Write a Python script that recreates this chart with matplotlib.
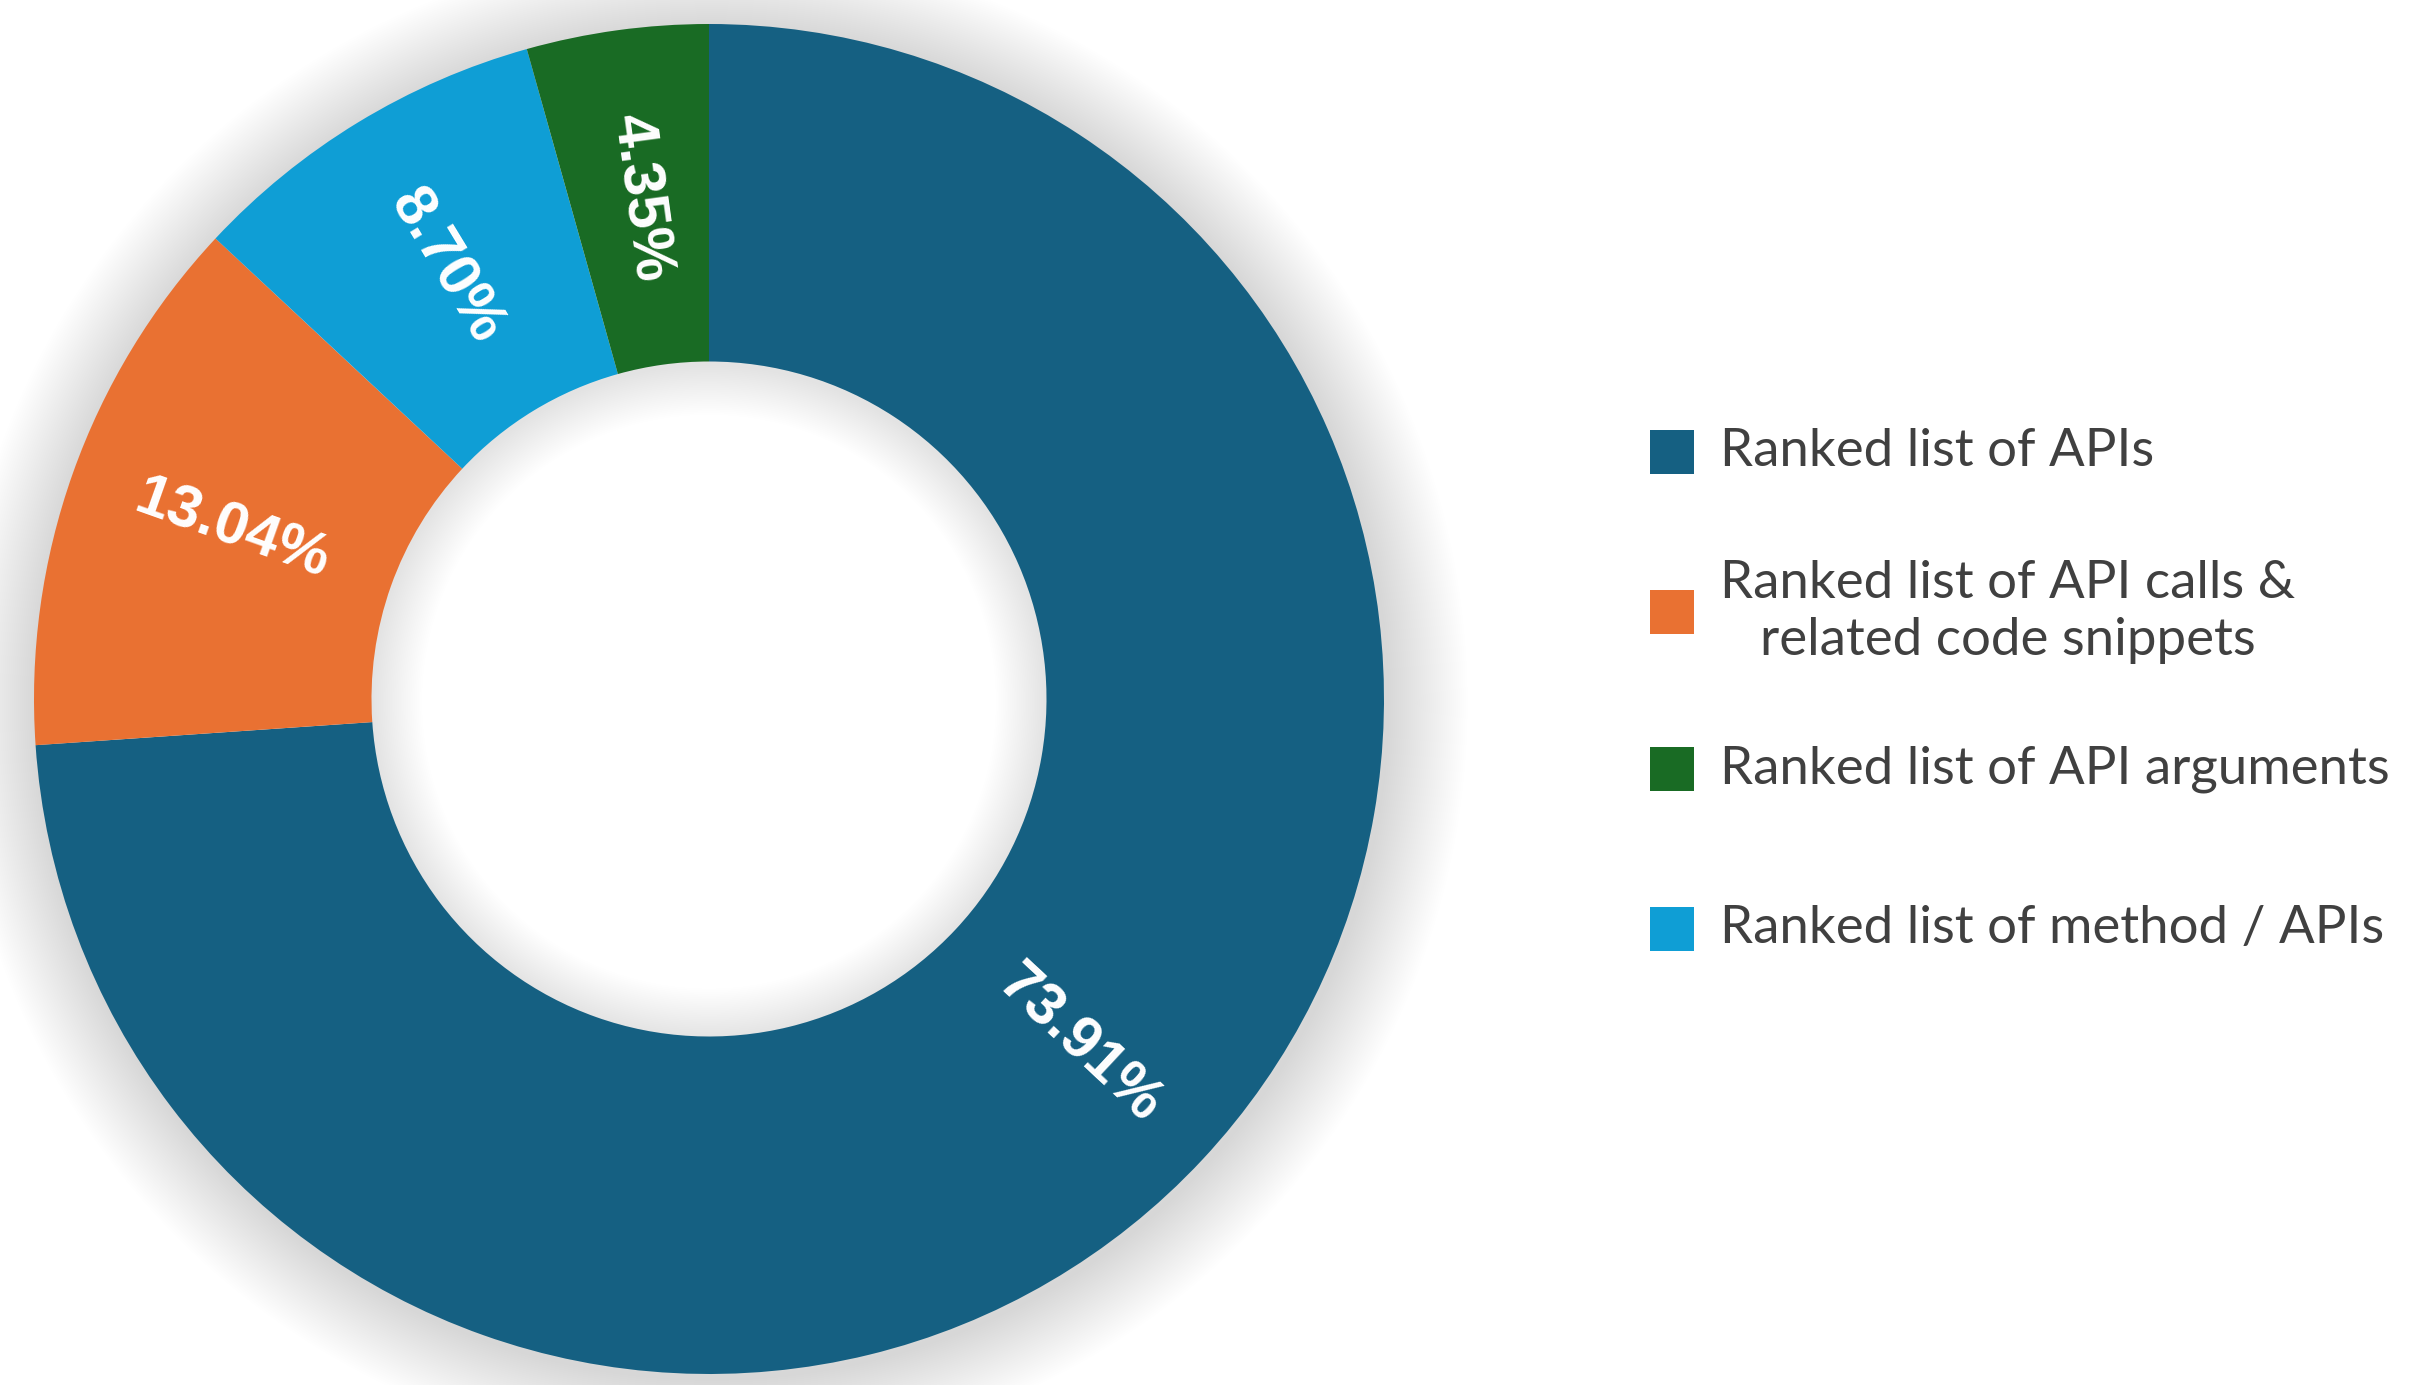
import numpy as np
import matplotlib
matplotlib.use("Agg")
import matplotlib.pyplot as plt
from matplotlib.patches import Circle, Rectangle

# data, in the order the wedges run clockwise from 12 o'clock
categories = ["Ranked list of APIs",
              "Ranked list of API calls &\nrelated code snippets",
              "Ranked list of method / APIs",
              "Ranked list of API arguments"]
shares = [73.91, 13.04, 8.70, 4.35]
colors = ["#156082", "#E97132", "#0F9ED5", "#196B24"]
legend_order = [0, 1, 3, 2]

W, H = 2413, 1385
fig = plt.figure(figsize=(W / 100, H / 100), dpi=100)
fig.patch.set_facecolor("white")

cx, cy, R = 709, 686, 675
pad = 1.1
ax = fig.add_axes([(cx - R * pad) / W, (cy - R * pad) / H,
                   2 * R * pad / W, 2 * R * pad / H])

pt_per_unit = R * 72 / 100.0

# soft outer shadow: strokes centred on the rim, inner half hidden by the ring
for w in np.linspace(0.004, 0.12, 40):
    ax.add_patch(Circle((0.004, -0.006), 1.0, fill=False, edgecolor="#000000",
                        alpha=0.003, lw=2 * w * pt_per_unit, zorder=0,
                        clip_on=False))

# soft shadow inside the hole
for w in np.linspace(0.003, 0.075, 28):
    ax.add_patch(Circle((0, -0.004), 0.5, fill=False, edgecolor="#000000",
                        alpha=0.003, lw=2 * w * pt_per_unit, zorder=0,
                        clip_on=False))

wedges, _ = ax.pie(shares, colors=colors, startangle=90, counterclock=False,
                   radius=1.0, wedgeprops=dict(width=0.5, linewidth=0))

ax.set_xlim(-pad, pad)
ax.set_ylim(-pad, pad)
ax.axis("off")

# value labels, written along the radius
start = 90.0
for v in shares:
    mid = start - v / 100 * 360 / 2
    start -= v / 100 * 360
    a = np.deg2rad(mid)
    rot = ((mid + 180) % 360) - 180
    if rot > 90 or rot < -90:
        rot -= 180
    ax.text(0.75 * np.cos(a), 0.75 * np.sin(a), "%.2f%%" % v,
            rotation=rot, rotation_mode="anchor", ha="center", va="center",
            color="white", fontsize=43, fontweight="bold",
            family="Liberation Sans", zorder=5)

# legend drawn by hand to keep the uneven row spacing
rows_y = [452, 612, 769, 929]
sq = 44
for y, i in zip(rows_y, legend_order):
    fig.patches.append(Rectangle((1650 / W, (H - y - sq / 2) / H), sq / W, sq / H,
                                 transform=fig.transFigure, color=colors[i],
                                 lw=0))
    fig.text(1720 / W, (H - y) / H, categories[i], ha="left", va="center",
             multialignment="center", fontsize=38, color="#404040",
             family="Lato", linespacing=1.25)

fig.savefig("out.png", dpi=100, facecolor="white")
